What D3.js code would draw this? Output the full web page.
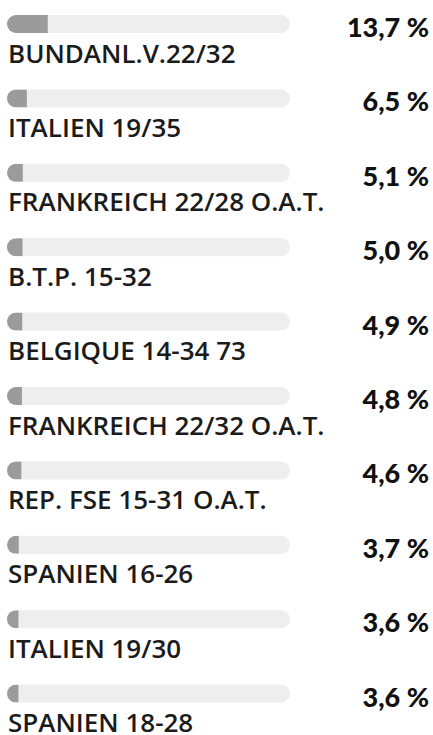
<!DOCTYPE html>
<html>
<head>
<meta charset="utf-8">
<script src="https://cdn.jsdelivr.net/npm/d3@7"></script>
<style>
  body { margin: 0; background: #fff; }
  .label { font-family: "Open Sans", sans-serif; font-weight: 600; fill: #1b1b1b; }
  .value { font-family: Lato, sans-serif; font-weight: 900; fill: #111; }
</style>
</head>
<body>
<svg id="chart" width="433" height="735"></svg>
<script>
const names = ["BUNDANL.V.22/32", "ITALIEN 19/35", "FRANKREICH 22/28 O.A.T.", "B.T.P. 15-32",
               "BELGIQUE 14-34 73", "FRANKREICH 22/32 O.A.T.", "REP. FSE 15-31 O.A.T.",
               "SPANIEN 16-26", "ITALIEN 19/30", "SPANIEN 18-28"];
const shares = [13.7, 6.5, 5.1, 5.0, 4.9, 4.8, 4.6, 3.7, 3.6, 3.6];

const trackX = 7, trackW = 283, barH = 18
const fmt = d => d.toFixed(1).replace(".", ",") + " %"

const data = names.map((n, i) => ({name: n, value: shares[i]}))

const yScale = d3.scaleBand().domain(names).range([15, 15 + 74.4 * names.length]).paddingInner(0)
const xScale = d3.scaleLinear().domain([0, 100]).range([0, trackW + 7])

const svg = d3.select("#chart")
const defs = svg.append("defs")

const rows = svg.selectAll(".row")
    .data(data)
    .join("g")
    .attr("class", "row")
    .attr("transform", d => `translate(0, ${yScale(d.name)})`)

// clip so the grey fill keeps the rounded left end
rows.each(function(d, i) {
    defs.append("clipPath").attr("id", `clip_${i}`)
        .append("rect")
        .attr("x", trackX).attr("y", 0)
        .attr("width", trackW).attr("height", barH)
        .attr("rx", barH / 2)
})

// track
rows.append("rect")
    .attr("x", trackX).attr("y", 0)
    .attr("width", trackW).attr("height", barH)
    .attr("rx", barH / 2)
    .attr("fill", "#eeeeee")

// value bar
rows.append("rect")
    .attr("clip-path", (d, i) => `url(#clip_${i})`)
    .attr("x", trackX).attr("y", 0)
    .attr("width", d => xScale(d.value) + 1)
    .attr("height", barH)
    .attr("fill", "#9b9b9b")

// labels
rows.append("text")
    .attr("class", "label")
    .attr("x", 8).attr("y", 47.5)
    .attr("font-size", 26)
    .text(d => d.name)

rows.append("text")
    .attr("class", "value")
    .attr("x", 429).attr("y", 22)
    .attr("text-anchor", "end")
    .attr("font-size", 27)
    .text(d => fmt(d.value))
</script>
</body>
</html>
